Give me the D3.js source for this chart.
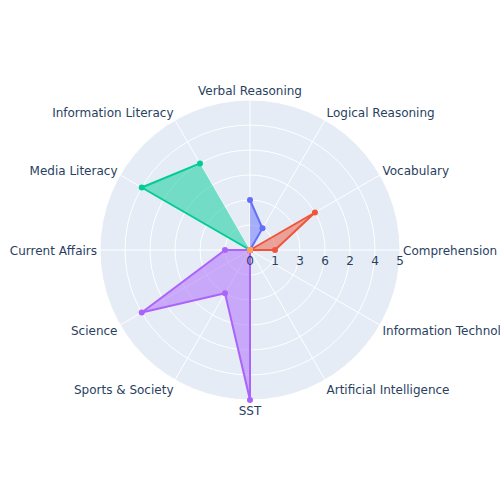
<!DOCTYPE html>
<html>
<head>
<meta charset="utf-8">
<script src="https://cdn.jsdelivr.net/npm/d3@7"></script>
<style>
  html, body { margin: 0; padding: 0; background: #fff; }
  svg { display: block; }
  text { font-family: "DejaVu Sans", Verdana, sans-serif; fill: #2a3f5f; font-size: 12px; }
</style>
</head>
<body>
<svg id="chart" width="500" height="500"></svg>
<script>
// Angular categories (clockwise from top)
const categories = ["Verbal Reasoning", "Logical Reasoning", "Vocabulary", "Comprehension",
  "Information Technology", "Artificial Intelligence", "SST", "Sports & Society",
  "Science", "Current Affairs", "Media Literacy", "Information Literacy"];

// Radial axis is categorical (order of appearance)
const radialTicks = ["0", "1", "3", "6", "2", "4", "5"];

// Series values (radial category per angular category)
const seriesBlue   = ["3", "1", "0", "0", "0", "0", "0", "0", "0", "0", "0", "0"];
const seriesRed    = ["0", "0", "6", "1", "0", "0", "0", "0", "0", "0", "0", "0"];
const seriesGreen  = ["0", "0", "0", "0", "0", "0", "0", "0", "0", "0", "4", "2"];
const seriesPurple = ["0", "0", "0", "0", "0", "0", "5", "3", "4", "1", "0", "0"];
const seriesOrange = ["0", "0", "0", "0", "0", "0", "0", "0", "0", "0", "0", "0"];

const seriesColors = ["#636efa", "#EF553B", "#00cc96", "#ab63fa", "#FFA15A"];
const allSeries = [seriesBlue, seriesRed, seriesGreen, seriesPurple, seriesOrange];

const svg = d3.select("#chart");
const cx = 250, cy = 250, R = 150;

const rScale = d3.scalePoint().domain(radialTicks).range([0, R]).padding(0);
// angle in radians, measured clockwise from top
const aScale = d3.scalePoint().domain(categories)
  .range([0, 2 * Math.PI * (categories.length - 1) / categories.length]).padding(0);

function pt(cat, rv) {
  const a = aScale(cat), r = rScale(rv);
  return [cx + r * Math.sin(a), cy - r * Math.cos(a)];
}

const g = svg.append("g");

// background disk
g.append("circle").attr("cx", cx).attr("cy", cy).attr("r", R).attr("fill", "#E5ECF6");

// radial grid circles
g.selectAll("circle.grid").data(radialTicks.slice(1)).join("circle")
  .attr("class", "grid")
  .attr("cx", cx).attr("cy", cy).attr("r", d => rScale(d))
  .attr("fill", "none").attr("stroke", "#fff").attr("stroke-width", 1);

// angular spokes
g.selectAll("line.spoke").data(categories).join("line")
  .attr("class", "spoke")
  .attr("x1", cx).attr("y1", cy)
  .attr("x2", d => cx + R * Math.sin(aScale(d)))
  .attr("y2", d => cy - R * Math.cos(aScale(d)))
  .attr("stroke", "#fff").attr("stroke-width", 1);

// traces
const line = d3.line();
allSeries.forEach((vals, i) => {
  const pts = categories.map((c, j) => pt(c, vals[j]));
  const col = seriesColors[i];
  const tg = g.append("g");
  tg.append("path").attr("d", line(pts) + "Z")
    .attr("fill", col).attr("fill-opacity", 0.5).attr("stroke", "none");
  tg.append("path").attr("d", line(pts))
    .attr("fill", "none").attr("stroke", col).attr("stroke-width", 2)
    .attr("stroke-linejoin", "round");
  tg.selectAll("circle").data(pts).join("circle")
    .attr("cx", d => d[0]).attr("cy", d => d[1]).attr("r", 3)
    .attr("fill", col);
});

// radial tick labels
g.selectAll("text.rtick").data(radialTicks).join("text")
  .attr("class", "rtick")
  .attr("x", d => cx + rScale(d)).attr("y", cy + 15)
  .attr("text-anchor", "middle")
  .text(d => d);

// angular labels
const LR = 153;
g.selectAll("text.alabel").data(categories).join("text")
  .attr("class", "alabel")
  .each(function(d) {
    const a = aScale(d);
    const s = Math.sin(a), c = Math.cos(a);
    const x = cx + LR * s;
    const yc = cy - LR * c - 7 * c + 1;
    const anchor = s > 0.01 ? "start" : (s < -0.01 ? "end" : "middle");
    d3.select(this).attr("x", x).attr("y", yc).attr("dy", "0.35em")
      .attr("text-anchor", anchor).text(d);
  });
</script>
</body>
</html>
